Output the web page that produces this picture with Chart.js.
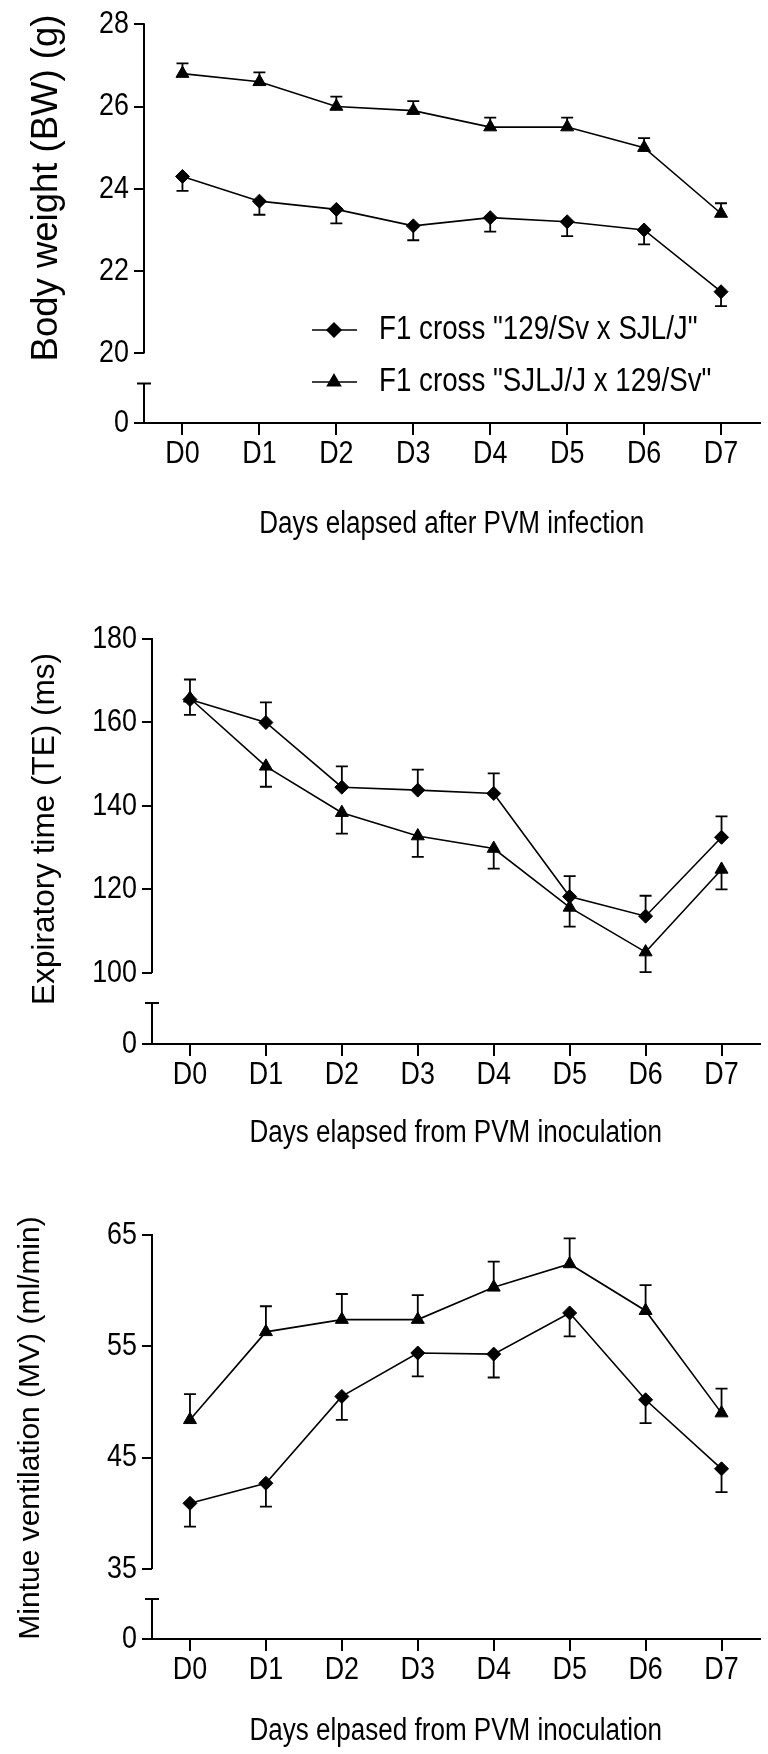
<!DOCTYPE html>
<html>
<head>
<meta charset="utf-8">
<title>PVM infection - F1 crosses</title>
<script src="https://cdn.jsdelivr.net/npm/chart.js@4.4.1/dist/chart.umd.min.js"></script>
<style>
  html, body { margin: 0; padding: 0; background: #fff; }
  #page { position: relative; width: 768px; height: 1754px; overflow: hidden; }
  .panel { position: absolute; left: 0; width: 768px; }
</style>
</head>
<body>
<div id="page">
  <div class="panel" style="top:0;height:560px"><canvas id="bw-chart"></canvas></div>
  <div class="panel" style="top:560px;height:600px"><canvas id="te-chart"></canvas></div>
  <div class="panel" style="top:1160px;height:594px"><canvas id="mv-chart"></canvas></div>
</div>
<script>
// Dados (média e erro padrão por dia)
const days = ['D0', 'D1', 'D2', 'D3', 'D4', 'D5', 'D6', 'D7'];
const seriesNames = ['F1 cross "129/Sv x SJL/J"', 'F1 cross "SJLJ/J x 129/Sv"'];

// Body weight (g)
const bwCross1 = [24.3, 23.7, 23.5, 23.1, 23.3, 23.2, 23.0, 21.5];
const bwCross1Sem = [0.35, 0.33, 0.34, 0.35, 0.34, 0.35, 0.35, 0.35];
const bwCross2 = [26.8, 26.6, 26.0, 25.9, 25.5, 25.5, 25.0, 23.4];
const bwCross2Sem = [0.25, 0.23, 0.24, 0.23, 0.23, 0.23, 0.23, 0.25];
const bwTicks = [20, 22, 24, 26, 28];

// Expiratory time (ms)
const teCross1 = [165.5, 160.0, 144.5, 143.8, 143.0, 118.3, 113.6, 132.5];
const teCross1Sem = [4.8, 4.8, 5.0, 4.9, 4.8, 4.9, 4.9, 5.0];
const teCross2 = [165.8, 149.5, 138.4, 132.8, 129.8, 115.7, 105.0, 124.8];
const teCross2Sem = [4.0, 4.9, 5.0, 5.0, 4.8, 4.6, 4.8, 4.8];
const teTicks = [100, 120, 140, 160, 180];

// Minute ventilation (ml/min)
const mvCross1 = [40.9, 42.7, 50.5, 54.4, 54.3, 58.0, 50.2, 44.0];
const mvCross1Sem = [2.1, 2.1, 2.1, 2.1, 2.1, 2.1, 2.1, 2.1];
const mvCross2 = [48.4, 56.3, 57.4, 57.4, 60.3, 62.4, 58.2, 49.0];
const mvCross2Sem = [2.3, 2.3, 2.3, 2.2, 2.3, 2.3, 2.3, 2.2];
const mvTicks = [35, 45, 55, 65];

const FONT = "'Liberation Sans', Arial, sans-serif";
const SQUEEZE = 0.84; // sem Arial Narrow: comprime o texto na horizontal

/**
 * Faz o contexto desenhar o texto "estreito" (tipo Arial Narrow).
 * Com ctx.wideText = true o texto sai com a largura normal.
 */
function squeezeText(ctx) {
    const fill = ctx.fillText;
    ctx.fillText = function (text, x, y, maxWidth) {
        if (this.wideText) return fill.call(this, text, x, y);
        this.save();
        this.translate(x, y);
        this.scale(SQUEEZE, 1);
        fill.call(this, text, 0, 0);
        this.restore();
    };
}

/**
 * Barras de erro (só um lado, como no GraphPad)
 */
const errorBars = {
    id: 'errorBars',
    afterDatasetsDraw(chart) {
        const ctx = chart.ctx;
        const y = chart.scales.y;
        ctx.save();
        ctx.strokeStyle = '#000';
        ctx.lineWidth = 1.8;
        chart.data.datasets.forEach((ds, i) => {
            const meta = chart.getDatasetMeta(i);
            meta.data.forEach((pt, j) => {
                const tip = y.getPixelForValue(ds.data[j] + ds.semDir * ds.sem[j]);
                ctx.beginPath();
                ctx.moveTo(pt.x, pt.y);
                ctx.lineTo(pt.x, tip);
                ctx.moveTo(pt.x - 6, tip);
                ctx.lineTo(pt.x + 6, tip);
                ctx.stroke();
            });
        });
        ctx.restore();
    }
};

/**
 * Eixo Y quebrado + título do eixo Y
 */
const brokenAxis = {
    id: 'brokenAxis',
    afterDraw(chart, args, opts) {
        const ctx = chart.ctx;
        const y = chart.scales.y;
        const x0 = chart.chartArea.left;
        const lowPx = y.getPixelForValue(opts.low);
        const capPx = lowPx + 30;
        ctx.save();
        ctx.strokeStyle = '#000';
        ctx.lineWidth = 2;
        ctx.beginPath();
        ctx.moveTo(x0, y.getPixelForValue(y.max) - 1);
        ctx.lineTo(x0, lowPx);
        ctx.moveTo(x0, capPx);
        ctx.lineTo(x0, y.getPixelForValue(y.min));
        ctx.moveTo(x0 - 7, capPx);
        ctx.lineTo(x0 + 7, capPx);
        ctx.stroke();

        // título vertical (largura normal)
        ctx.fillStyle = '#000';
        ctx.font = opts.titleSize + 'px ' + FONT;
        ctx.textAlign = 'center';
        ctx.textBaseline = 'middle';
        ctx.translate(opts.titleX, opts.titleY);
        ctx.rotate(-Math.PI / 2);
        ctx.wideText = true;
        ctx.fillText(opts.title, 0, 0);
        ctx.wideText = false;
        ctx.restore();
    }
};

/**
 * Legenda dentro da área do gráfico (linha + marcador + texto)
 */
const insetLegend = {
    id: 'insetLegend',
    afterDraw(chart, args, opts) {
        if (!opts.show) return;
        const ctx = chart.ctx;
        ctx.save();
        chart.data.datasets.forEach((ds, i) => {
            const yy = opts.y + i * opts.dy;
            ctx.strokeStyle = '#000';
            ctx.fillStyle = '#000';
            ctx.lineWidth = 1.5;
            ctx.beginPath();
            ctx.moveTo(opts.x, yy);
            ctx.lineTo(opts.x + 45, yy);
            ctx.stroke();
            Chart.helpers.drawPoint(ctx, {
                pointStyle: ds.pointStyle, radius: ds.pointRadius, rotation: 0, borderWidth: 1
            }, opts.x + 22, yy);
            ctx.font = opts.size + 'px ' + FONT;
            ctx.textAlign = 'left';
            ctx.textBaseline = 'middle';
            ctx.fillText(ds.label, opts.textX, yy);
        });
        ctx.restore();
    }
};

function makeDataset(label, values, sem, dir, style) {
    return {
        label: label,
        data: values,
        sem: sem,
        semDir: dir,
        borderColor: '#000',
        borderWidth: 1.6,
        backgroundColor: '#000',
        pointStyle: style,
        pointRadius: style === 'triangle' ? 7.5 : 7,
        pointBorderWidth: 1,
        pointBackgroundColor: '#000',
        pointBorderColor: '#000',
        tension: 0
    };
}

function renderPanel(canvasId, p) {
    const ctx = document.getElementById(canvasId).getContext('2d');
    squeezeText(ctx);
    return new Chart(ctx, {
        type: 'line',
        data: {
            labels: days,
            datasets: [
                makeDataset(seriesNames[0], p.a, p.aSem, p.aDir, 'rectRot'),
                makeDataset(seriesNames[1], p.b, p.bSem, p.bDir, 'triangle')
            ]
        },
        options: {
            responsive: true,
            maintainAspectRatio: false,
            animation: false,
            layout: { padding: { top: p.padTop, right: p.padRight, left: 0, bottom: 0 } },
            scales: {
                x: {
                    type: 'category',
                    offset: true,
                    afterFit: s => { s.height = p.xHeight; },
                    border: { display: true, color: '#000', width: 2 },
                    grid: { display: true, drawOnChartArea: false, drawTicks: true, tickLength: 12, color: '#000', lineWidth: 2 },
                    ticks: { color: '#000', padding: 0, maxRotation: 0, autoSkip: false, font: { family: FONT, size: 32 } },
                    title: { display: true, text: p.xTitle, color: '#000', font: { family: FONT, size: 31 }, padding: { top: 0, bottom: p.xTitlePad } }
                },
                y: {
                    min: p.floor,
                    max: p.ticks[p.ticks.length - 1],
                    afterFit: s => { s.width = p.axisX; },
                    afterBuildTicks: s => { s.ticks = [p.floor].concat(p.ticks).map(v => ({ value: v })); },
                    border: { display: false },
                    grid: { display: true, drawOnChartArea: false, drawTicks: true, tickLength: 10, color: '#000', lineWidth: 2 },
                    ticks: {
                        color: '#000', padding: 5, font: { family: FONT, size: 32 },
                        callback: v => (v === p.floor ? '0' : v)
                    }
                }
            },
            plugins: {
                legend: { display: false },
                tooltip: { enabled: false },
                brokenAxis: { low: p.ticks[0], title: p.yTitle, titleX: p.yTitleX, titleY: p.yTitleY, titleSize: p.yTitleSize },
                insetLegend: { show: !!p.legend, x: 312, y: 330, dy: 52, textX: 379, size: 33 }
            }
        },
        plugins: [errorBars, brokenAxis, insetLegend]
    });
}

document.addEventListener('DOMContentLoaded', () => {
    renderPanel('bw-chart', {
        a: bwCross1, aSem: bwCross1Sem, aDir: -1,
        b: bwCross2, bSem: bwCross2Sem, bDir: 1,
        ticks: bwTicks, floor: 18.31,
        padTop: 20, padRight: 4, axisX: 144, xHeight: 137, xTitlePad: 17,
        xTitle: 'Days elapsed after PVM infection',
        yTitle: 'Body weight (BW) (g)', yTitleX: 47, yTitleY: 188, yTitleSize: 36.5,
        legend: true
    });
    renderPanel('te-chart', {
        a: teCross1, aSem: teCross1Sem, aDir: 1,
        b: teCross2, bSem: teCross2Sem, bDir: -1,
        ticks: teTicks, floor: 82.98,
        padTop: 79, padRight: 0, axisX: 152, xHeight: 116, xTitlePad: 8,
        xTitle: 'Days elapsed from PVM inoculation',
        yTitle: 'Expiratory time (TE) (ms)', yTitleX: 45, yTitleY: 269, yTitleSize: 31.5
    });
    renderPanel('mv-chart', {
        a: mvCross1, aSem: mvCross1Sem, aDir: -1,
        b: mvCross2, bSem: mvCross2Sem, bDir: 1,
        ticks: mvTicks, floor: 28.71,
        padTop: 75, padRight: 0, axisX: 152, xHeight: 115, xTitlePad: 4,
        xTitle: 'Days elpased from PVM inoculation',
        yTitle: 'Mintue ventilation (MV) (ml/min)', yTitleX: 31, yTitleY: 268, yTitleSize: 30
    });
});
</script>
</body>
</html>
